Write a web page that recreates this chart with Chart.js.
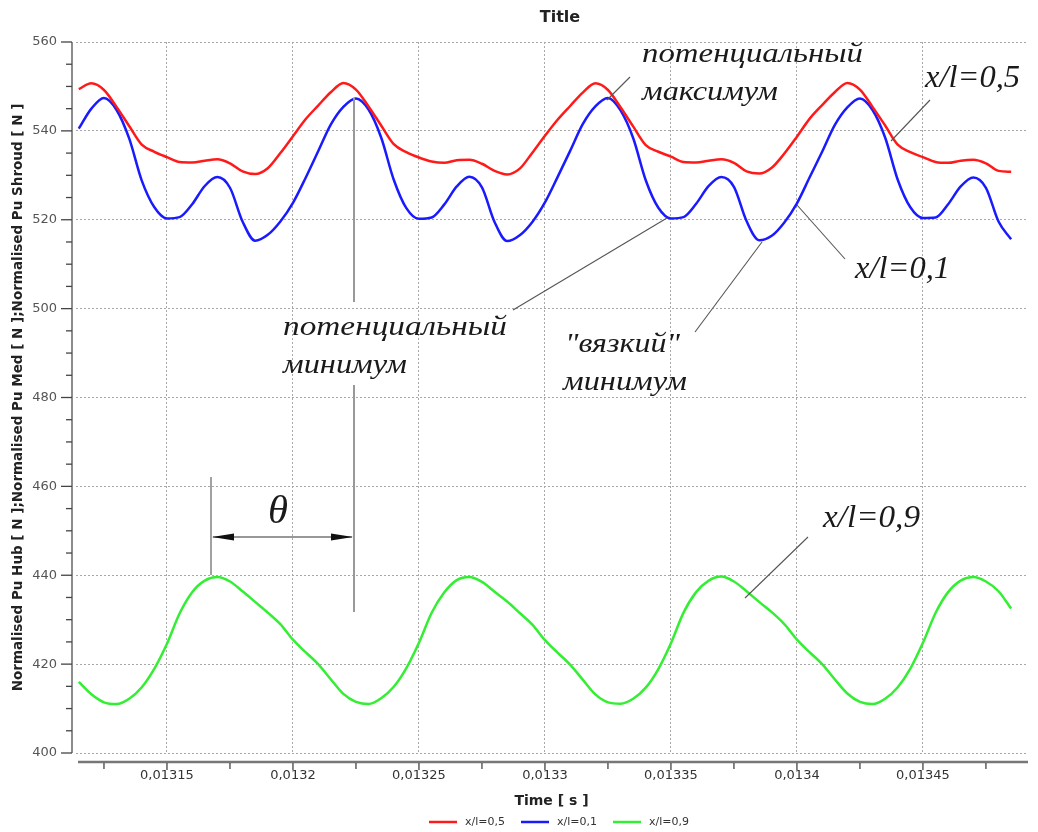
<!DOCTYPE html>
<html>
<head>
<meta charset="utf-8">
<script src="https://cdn.jsdelivr.net/npm/chart.js@4.4.1/dist/chart.umd.min.js"></script>
<style>
  body { margin: 0; background: #fff; }
  #wrap { width: 1038px; height: 832px; }
</style>
</head>
<body>
<div id="wrap"><canvas id="myChart" width="1038" height="832"></canvas></div>
<script>
// time [s]
let times = [0.013115, 0.01312, 0.013125, 0.01313, 0.013135, 0.01314, 0.013145, 0.01315, 0.013155, 0.01316,
    0.013165, 0.01317, 0.013175, 0.01318, 0.013185, 0.01319, 0.013195, 0.0132, 0.013205, 0.01321,
    0.013215, 0.01322, 0.013225, 0.01323, 0.013235, 0.01324, 0.013245, 0.01325, 0.013255, 0.01326,
    0.013265, 0.01327, 0.013275, 0.01328, 0.013285, 0.01329, 0.013295, 0.0133, 0.013305, 0.01331,
    0.013315, 0.01332, 0.013325, 0.01333, 0.013335, 0.01334, 0.013345, 0.01335, 0.013355, 0.01336,
    0.013365, 0.01337, 0.013375, 0.01338, 0.013385, 0.01339, 0.013395, 0.0134, 0.013405, 0.01341,
    0.013415, 0.01342, 0.013425, 0.01343, 0.013435, 0.01344, 0.013445, 0.01345, 0.013455, 0.01346,
    0.013465, 0.01347, 0.013475, 0.01348, 0.013485];

// x/l=0,5 (shroud)
let shroud = [549.4,
    550.7, 549.2, 545.4, 541.1, 536.9, 535.3, 534.1, 533.0, 532.9, 533.3, 533.6, 532.7, 530.9, 530.3, 531.6, 535.0, 538.8, 542.6, 545.7, 548.7,
    550.8, 549.3, 545.5, 541.2, 537.0, 535.2, 534.0, 533.1, 532.8, 533.4, 533.5, 532.6, 531.0, 530.2, 531.5, 535.1, 538.9, 542.5, 545.6, 548.6,
    550.7, 549.2, 545.3, 541.0, 536.8, 535.3, 534.2, 533.0, 532.9, 533.3, 533.6, 532.8, 530.9, 530.4, 531.7, 534.9, 538.7, 542.7, 545.8, 548.7,
    550.8, 549.3, 545.4, 541.2, 536.9, 535.2, 534.1, 533.0, 532.8, 533.3, 533.5, 532.7, 531.0, 530.8];

// x/l=0,1 (hub)
let hub = [540.5, 545.0,
    547.4, 544.7, 538.3, 528.8, 522.8, 520.3, 520.6, 523.5, 527.6, 529.6, 527.2, 519.6, 515.3, 516.6, 519.6, 523.8, 529.4, 535.4, 541.4, 545.4,
    547.3, 544.8, 538.5, 529.0, 522.6, 520.2, 520.5, 523.4, 527.5, 529.7, 527.3, 519.5, 515.2, 516.5, 519.5, 523.9, 529.6, 535.5, 541.5, 545.5,
    547.4, 544.6, 538.4, 528.9, 522.7, 520.3, 520.6, 523.6, 527.6, 529.6, 527.4, 519.7, 515.4, 516.4, 519.4, 523.7, 529.5, 535.3, 541.3, 545.3,
    547.3, 544.7, 538.5, 529.0, 522.8, 520.4, 520.5, 523.5, 527.5, 529.5, 527.2, 519.6, 515.6];

// x/l=0,9 (med)
let med = [416.0, 413.2,
    411.4, 411.0, 412.2, 414.8, 419.0, 424.6, 431.4, 436.2, 438.8, 439.6, 438.6, 436.4, 434.0, 431.6, 429.0, 425.5, 422.7, 420.0, 416.6, 413.3,
    411.5, 411.0, 412.3, 414.9, 419.1, 424.8, 431.5, 436.1, 438.9, 439.6, 438.5, 436.3, 434.1, 431.5, 428.9, 425.4, 422.6, 419.9, 416.5, 413.2,
    411.4, 411.1, 412.2, 414.7, 418.9, 424.7, 431.6, 436.2, 438.8, 439.7, 438.6, 436.4, 434.0, 431.7, 429.0, 425.5, 422.7, 420.0, 416.6, 413.4,
    411.5, 411.0, 412.2, 414.8, 419.0, 424.8, 431.5, 436.2, 438.8, 439.6, 438.6, 436.4, 432.5];

let seriesLabels = ['x/l=0,5', 'x/l=0,1', 'x/l=0,9'];
let seriesColors = ['#ff1a1a', '#1a1aff', '#33ee33'];

let xMajorTicks = [0.01315, 0.0132, 0.01325, 0.0133, 0.01335, 0.0134, 0.01345];
let xMinorTicks = [0.013125, 0.013175, 0.013225, 0.013275, 0.013325, 0.013375, 0.013425, 0.013475];

function pts(ys) {
    return times.map(function (t, i) { return { x: t, y: ys[i] }; });
}

function isMajorX(v) {
    return Math.round(v * 1e6) % 50 === 0;
}

function fitText(ctx, txt, x, y, w, size) {
    ctx.font = 'italic ' + size + 'px "Liberation Serif", "DejaVu Serif", serif';
    let m = ctx.measureText(txt).width;
    ctx.save();
    ctx.translate(x, y);
    ctx.scale(w / m, 1);
    ctx.fillText(txt, 0, 0);
    ctx.restore();
}

function line(ctx, x1, y1, x2, y2) {
    ctx.beginPath();
    ctx.moveTo(x1, y1);
    ctx.lineTo(x2, y2);
    ctx.stroke();
}

function arrowHead(ctx, x, y, dir) {
    ctx.beginPath();
    ctx.moveTo(x, y);
    ctx.lineTo(x + dir * 22, y - 3.5);
    ctx.lineTo(x + dir * 22, y + 3.5);
    ctx.closePath();
    ctx.fill();
}

let decor = {
    id: 'decor',
    afterDraw: function (chart) {
        let ctx = chart.ctx;
        let area = chart.chartArea;
        let xs = chart.scales.x;
        let ys = chart.scales.y;
        ctx.save();

        // axis lines
        ctx.strokeStyle = '#666';
        ctx.lineWidth = 1.5;
        line(ctx, area.left - 4, area.top, area.left - 4, area.bottom);
        ctx.strokeStyle = '#777';
        ctx.lineWidth = 2.5;
        line(ctx, area.left + 2, area.bottom + 9, area.right + 1, area.bottom + 9);

        // tick marks
        ctx.strokeStyle = '#444';
        ctx.lineWidth = 1.3;
        ys.ticks.forEach(function (t) {
            let py = ys.getPixelForValue(t.value);
            let len = t.value % 20 === 0 ? 11 : 6;
            line(ctx, area.left - 4 - len, py, area.left - 4, py);
        });
        xs.ticks.forEach(function (t) {
            let px = xs.getPixelForValue(t.value);
            let len = isMajorX(t.value) ? 7 : 6;
            line(ctx, px, area.bottom + 10, px, area.bottom + 10 + len);
        });

        // title
        ctx.fillStyle = '#222';
        ctx.font = 'bold 16px "DejaVu Sans", sans-serif';
        ctx.textAlign = 'center';
        ctx.textBaseline = 'middle';
        ctx.fillText('Title', 560, 18);

        // legend
        ctx.font = '11px "DejaVu Sans", sans-serif';
        ctx.textAlign = 'left';
        let ds = chart.data.datasets;
        let total = 0;
        ds.forEach(function (d) { total += 28 + 8 + ctx.measureText(d.label).width; });
        total += 16 * (ds.length - 1);
        let lx = 559 - total / 2;
        ds.forEach(function (d) {
            ctx.strokeStyle = d.borderColor;
            ctx.lineWidth = 2.5;
            line(ctx, lx, 822, lx + 28, 822);
            lx += 36;
            ctx.fillStyle = '#333';
            ctx.fillText(d.label, lx, 822);
            lx += ctx.measureText(d.label).width + 16;
        });

        // annotations
        ctx.strokeStyle = '#999';
        ctx.lineWidth = 2;
        line(ctx, 354, 98, 354, 302);
        line(ctx, 354, 385, 354, 612);

        ctx.strokeStyle = '#555';
        ctx.lineWidth = 1.1;
        line(ctx, 630, 77, 607, 100);
        line(ctx, 930, 100, 891, 141);
        line(ctx, 797, 205, 845, 259);
        line(ctx, 513, 310, 667, 218);
        line(ctx, 695, 332, 762, 242);
        line(ctx, 808, 537, 745, 598);
        line(ctx, 211, 477, 211, 575);
        ctx.strokeStyle = '#333';
        line(ctx, 213, 537, 352, 537);
        ctx.fillStyle = '#111';
        arrowHead(ctx, 212, 537, 1);
        arrowHead(ctx, 353, 537, -1);

        ctx.fillStyle = '#1a1a1a';
        ctx.textAlign = 'left';
        ctx.textBaseline = 'alphabetic';
        fitText(ctx, 'потенциальный', 642, 62, 221, 28);
        fitText(ctx, 'максимум', 642, 100, 136, 28);
        fitText(ctx, 'x/l=0,5', 925, 87, 95, 32);
        fitText(ctx, 'x/l=0,1', 855, 278, 95, 32);
        fitText(ctx, 'потенциальный', 283, 335, 224, 28);
        fitText(ctx, 'минимум', 283, 373, 124, 28);
        fitText(ctx, '"вязкий"', 565, 352, 115, 28);
        fitText(ctx, 'минимум', 563, 390, 124, 28);
        fitText(ctx, 'x/l=0,9', 823, 527, 97, 32);
        fitText(ctx, 'θ', 268, 523, 20, 40);

        ctx.restore();
    }
};

let ctx1 = document.getElementById('myChart').getContext('2d');
let myChart = new Chart(ctx1, {
    type: 'line',
    data: {
        datasets: [
            { label: seriesLabels[0], data: pts(shroud), borderColor: seriesColors[0] },
            { label: seriesLabels[1], data: pts(hub), borderColor: seriesColors[1] },
            { label: seriesLabels[2], data: pts(med), borderColor: seriesColors[2] }
        ]
    },
    options: {
        responsive: false,
        animation: false,
        layout: { padding: { top: 42, bottom: 20, left: 0, right: 11 } },
        elements: {
            line: { borderWidth: 2.5, tension: 0.4, cubicInterpolationMode: 'monotone', fill: false },
            point: { radius: 0 }
        },
        plugins: {
            legend: { display: false },
            title: { display: false },
            tooltip: { enabled: false }
        },
        scales: {
            x: {
                type: 'linear',
                min: 0.0131139,
                max: 0.0134913,
                afterBuildTicks: function (scale) {
                    scale.ticks = xMajorTicks.concat(xMinorTicks)
                        .sort(function (a, b) { return a - b; })
                        .map(function (v) { return { value: v }; });
                },
                afterFit: function (scale) { scale.height = 59; },
                ticks: {
                    autoSkip: false,
                    maxRotation: 0,
                    padding: 15,
                    color: '#333',
                    font: { family: 'DejaVu Sans', size: 13 },
                    callback: function (v) {
                        return isMajorX(v) ? parseFloat(v.toFixed(6)).toString().replace('.', ',') : '';
                    }
                },
                grid: {
                    drawTicks: false,
                    lineWidth: 1,
                    color: function (c) { return c.tick && isMajorX(c.tick.value) ? '#a8a8a8' : 'rgba(0,0,0,0)'; }
                },
                border: { display: false, dash: [2, 2] },
                title: {
                    display: true,
                    text: 'Time [ s ]',
                    color: '#222',
                    font: { family: 'DejaVu Sans', size: 14, weight: 'bold' },
                    padding: { top: 0, bottom: 2 }
                }
            },
            y: {
                min: 400,
                max: 560,
                afterFit: function (scale) { scale.width = 76; },
                ticks: {
                    stepSize: 5,
                    autoSkip: false,
                    padding: 19,
                    color: '#555',
                    font: { family: 'DejaVu Sans', size: 13 },
                    callback: function (v) { return v % 20 === 0 ? v : ''; }
                },
                grid: {
                    drawTicks: false,
                    lineWidth: 1,
                    color: function (c) { return c.tick && c.tick.value % 20 === 0 ? '#a8a8a8' : 'rgba(0,0,0,0)'; }
                },
                border: { display: false, dash: [2, 2] },
                title: {
                    display: true,
                    text: 'Normalised Pu Hub [ N ];Normalised Pu Med [ N ];Normalised Pu Shroud [ N ]',
                    color: '#222',
                    font: { family: 'DejaVu Sans', size: 13.5, weight: 'bold' },
                    padding: { top: 10, bottom: 0 }
                }
            }
        }
    },
    plugins: [decor]
});
</script>
</body>
</html>
